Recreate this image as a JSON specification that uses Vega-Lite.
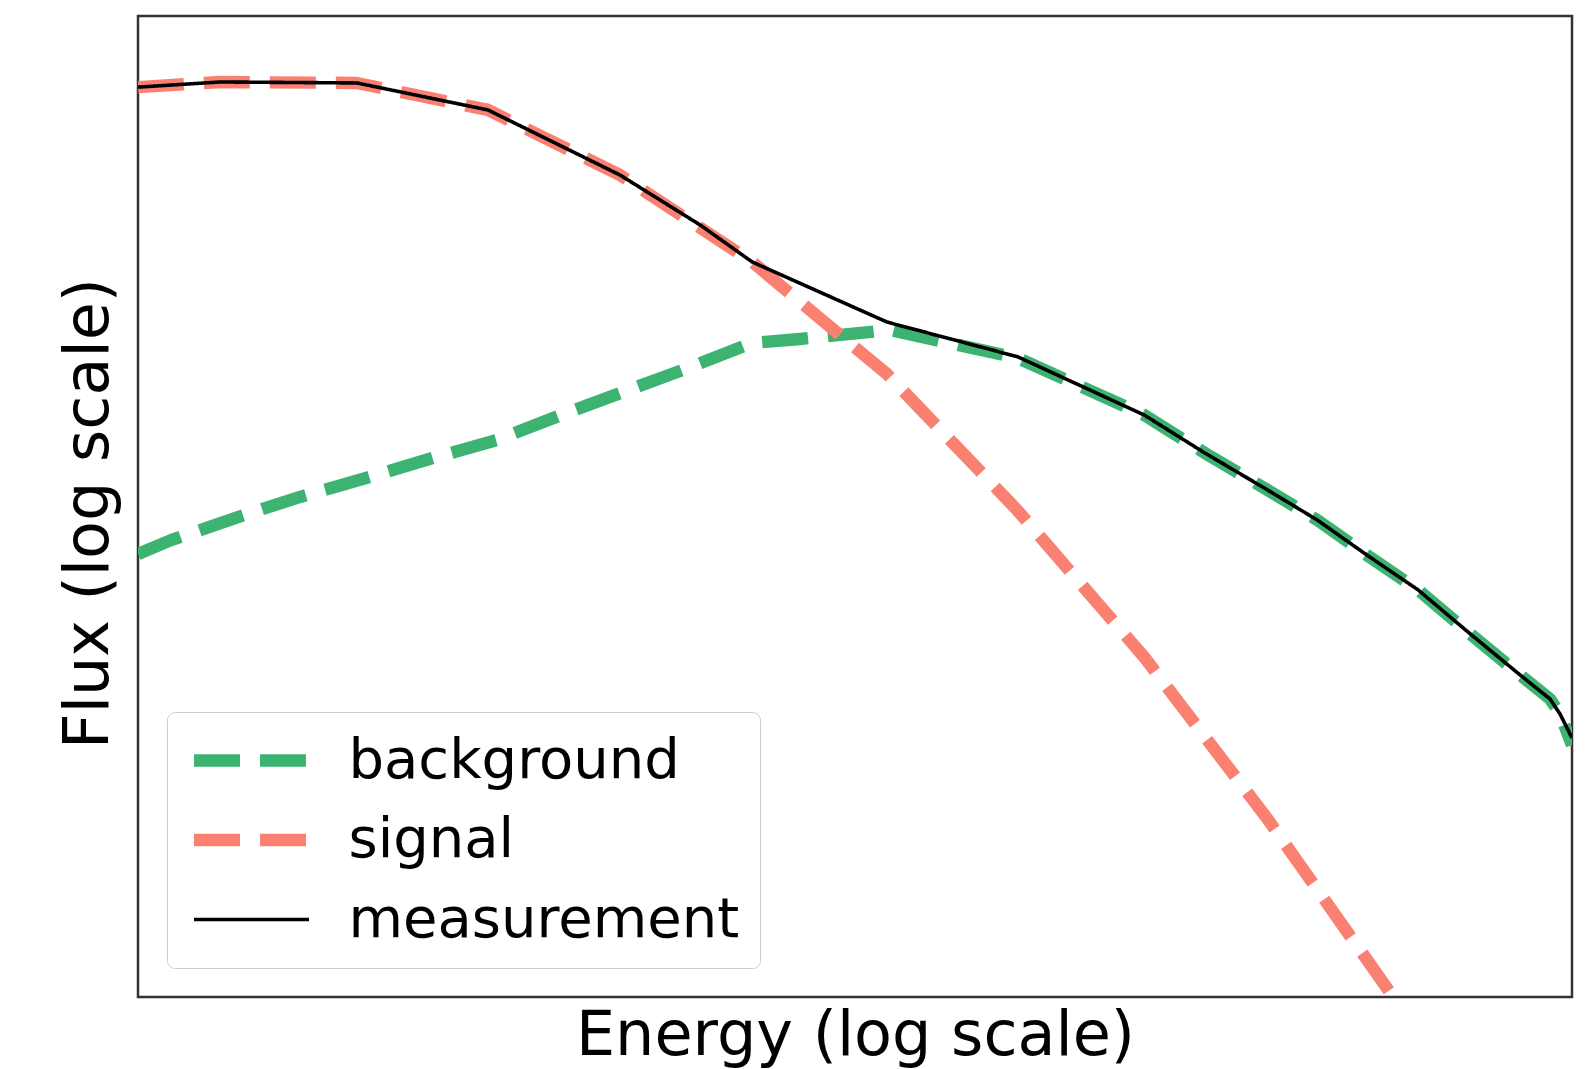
{
  "$schema": "https://vega.github.io/schema/vega-lite/v6.json",
  "width": 1434,
  "height": 981,
  "autosize": {"type": "none"},
  "padding": {"left": 138, "top": 16, "right": 16, "bottom": 72},
  "background": "white",
  "config": {
    "view": {"stroke": "#333333", "strokeWidth": 2.5},
    "font": "DejaVu Sans"
  },
  "data": {
    "values": [
      {"series": "background", "log_energy": 0, "log_flux": -2.194},
      {"series": "background", "log_energy": 0.069, "log_flux": -2.137},
      {"series": "background", "log_energy": 0.209, "log_flux": -2.043},
      {"series": "background", "log_energy": 0.339, "log_flux": -1.961},
      {"series": "background", "log_energy": 0.477, "log_flux": -1.884},
      {"series": "background", "log_energy": 0.617, "log_flux": -1.802},
      {"series": "background", "log_energy": 0.751, "log_flux": -1.729},
      {"series": "background", "log_energy": 0.885, "log_flux": -1.627},
      {"series": "background", "log_energy": 1.015, "log_flux": -1.533},
      {"series": "background", "log_energy": 1.151, "log_flux": -1.435},
      {"series": "background", "log_energy": 1.285, "log_flux": -1.333},
      {"series": "background", "log_energy": 1.385, "log_flux": -1.317},
      {"series": "background", "log_energy": 1.573, "log_flux": -1.28},
      {"series": "background", "log_energy": 1.841, "log_flux": -1.395},
      {"series": "background", "log_energy": 2.105, "log_flux": -1.627},
      {"series": "background", "log_energy": 2.232, "log_flux": -1.782},
      {"series": "background", "log_energy": 2.36, "log_flux": -1.929},
      {"series": "background", "log_energy": 2.467, "log_flux": -2.055},
      {"series": "background", "log_energy": 2.571, "log_flux": -2.198},
      {"series": "background", "log_energy": 2.678, "log_flux": -2.34},
      {"series": "background", "log_energy": 2.785, "log_flux": -2.516},
      {"series": "background", "log_energy": 2.889, "log_flux": -2.683},
      {"series": "background", "log_energy": 2.954, "log_flux": -2.785},
      {"series": "background", "log_energy": 2.975, "log_flux": -2.846},
      {"series": "background", "log_energy": 3.0, "log_flux": -2.973},
      {"series": "signal", "log_energy": 0, "log_flux": -0.29},
      {"series": "signal", "log_energy": 0.172, "log_flux": -0.269},
      {"series": "signal", "log_energy": 0.458, "log_flux": -0.273},
      {"series": "signal", "log_energy": 0.732, "log_flux": -0.383},
      {"series": "signal", "log_energy": 1.008, "log_flux": -0.648},
      {"series": "signal", "log_energy": 1.285, "log_flux": -1.003},
      {"series": "signal", "log_energy": 1.567, "log_flux": -1.46},
      {"series": "signal", "log_energy": 1.839, "log_flux": -2.014},
      {"series": "signal", "log_energy": 2.105, "log_flux": -2.614},
      {"series": "signal", "log_energy": 2.36, "log_flux": -3.266},
      {"series": "signal", "log_energy": 2.626, "log_flux": -4.0},
      {"series": "signal", "log_energy": 2.678, "log_flux": -4.147},
      {"series": "measurement", "log_energy": 0, "log_flux": -0.29},
      {"series": "measurement", "log_energy": 0.172, "log_flux": -0.269},
      {"series": "measurement", "log_energy": 0.458, "log_flux": -0.273},
      {"series": "measurement", "log_energy": 0.732, "log_flux": -0.383},
      {"series": "measurement", "log_energy": 1.008, "log_flux": -0.648},
      {"series": "measurement", "log_energy": 1.176, "log_flux": -0.852},
      {"series": "measurement", "log_energy": 1.285, "log_flux": -1.003},
      {"series": "measurement", "log_energy": 1.567, "log_flux": -1.248},
      {"series": "measurement", "log_energy": 1.841, "log_flux": -1.39},
      {"series": "measurement", "log_energy": 2.105, "log_flux": -1.627},
      {"series": "measurement", "log_energy": 2.232, "log_flux": -1.782},
      {"series": "measurement", "log_energy": 2.36, "log_flux": -1.929},
      {"series": "measurement", "log_energy": 2.467, "log_flux": -2.055},
      {"series": "measurement", "log_energy": 2.571, "log_flux": -2.198},
      {"series": "measurement", "log_energy": 2.678, "log_flux": -2.34},
      {"series": "measurement", "log_energy": 2.785, "log_flux": -2.516},
      {"series": "measurement", "log_energy": 2.889, "log_flux": -2.683},
      {"series": "measurement", "log_energy": 2.954, "log_flux": -2.785},
      {"series": "measurement", "log_energy": 2.975, "log_flux": -2.846},
      {"series": "measurement", "log_energy": 3.0, "log_flux": -2.944}
    ]
  },
  "mark": {"type": "line", "clip": true, "strokeCap": "butt", "strokeJoin": "round"},
  "encoding": {
    "x": {
      "field": "log_energy",
      "type": "quantitative",
      "scale": {"domain": [0, 3], "nice": false, "zero": false},
      "axis": {
        "title": "Energy (log scale)",
        "labels": false,
        "ticks": false,
        "domain": false,
        "grid": false,
        "titleFontSize": 62,
        "titleFontWeight": "normal",
        "titleColor": "black",
        "titleFont": "DejaVu Sans",
        "titlePadding": 8
      }
    },
    "y": {
      "field": "log_flux",
      "type": "quantitative",
      "scale": {"domain": [-4, 0], "nice": false, "zero": false},
      "axis": {
        "title": "Flux (log scale)",
        "labels": false,
        "ticks": false,
        "domain": false,
        "grid": false,
        "titleFontSize": 62,
        "titleFontWeight": "normal",
        "titleColor": "black",
        "titleFont": "DejaVu Sans",
        "titlePadding": 18,
        "titleY": 497
      }
    },
    "color": {
      "field": "series",
      "type": "nominal",
      "sort": ["background", "signal", "measurement"],
      "scale": {"domain": ["background", "signal", "measurement"], "range": ["#3CB371", "#FA8072", "#000000"]},
      "legend": {
        "title": null,
        "orient": "bottom-left",
        "offset": 29,
        "symbolType": "stroke",
        "symbolSize": 13225,
        "clipHeight": 56,
        "labelFontSize": 56,
        "labelFont": "DejaVu Sans",
        "labelColor": "black",
        "labelLimit": 900,
        "labelOffset": 33,
        "padding": 20.5,
        "rowPadding": 23.5,
        "cornerRadius": 8,
        "strokeColor": "#cccccc",
        "fillColor": "white"
      }
    },
    "strokeDash": {
      "field": "series",
      "type": "nominal",
      "sort": ["background", "signal", "measurement"],
      "scale": {"domain": ["background", "signal", "measurement"], "range": [[46, 20], [46, 20], [1, 0]]}
    },
    "strokeWidth": {
      "field": "series",
      "type": "nominal",
      "sort": ["background", "signal", "measurement"],
      "scale": {"type": "ordinal", "domain": ["background", "signal", "measurement"], "range": [12.4, 12.4, 3.6]}
    }
  }
}
